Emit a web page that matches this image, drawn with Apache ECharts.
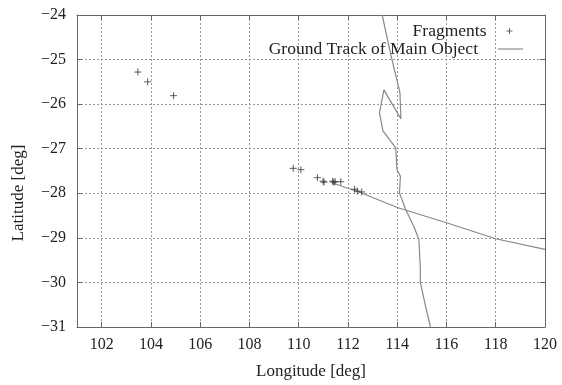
<!DOCTYPE html>
<html><head><meta charset="utf-8">
<script src="https://cdn.jsdelivr.net/npm/echarts@6/dist/echarts.min.js"></script>
<style>html,body{margin:0;padding:0;background:#fff}#c{width:562px;height:385px}</style>
</head><body><div id="c"></div>
<script>
// Fragment positions (longitude, latitude)
const fragLon = [103.47, 103.87, 104.92, 109.78, 110.09, 110.76, 110.99, 111.03, 111.38, 111.42, 111.48, 111.71, 112.27, 112.38, 112.56];
const fragLat = [-25.28, -25.50, -25.81, -27.44, -27.47, -27.65, -27.73, -27.75, -27.73, -27.75, -27.74, -27.74, -27.91, -27.95, -27.97];
// Ground track segment 1 (east-west pass)
const track1Lon = [111.37, 112.45, 114.00, 116.00, 118.00, 120.00];
const track1Lat = [-27.77, -27.97, -28.32, -28.66, -29.02, -29.26];
// Ground track segment 2 (north-south pass)
const track2Lon = [113.39, 113.74, 114.11, 114.15, 113.46, 113.28, 113.42, 113.94, 113.99, 114.13, 114.09, 114.34, 114.67, 114.88, 114.94, 114.94, 115.15, 115.35];
const track2Lat = [-24.00, -24.89, -25.74, -26.33, -25.68, -26.19, -26.60, -26.98, -27.47, -27.62, -27.99, -28.36, -28.74, -29.03, -29.70, -30.00, -30.53, -31.00];
// Tick values
const xTicks = [102, 104, 106, 108, 110, 112, 114, 116, 118, 120];
const yTicks = [-31, -30, -29, -28, -27, -26, -25, -24];

const zip = (a, b) => a.map((v, i) => [v, b[i]]);
const font = '"Liberation Serif", "Times New Roman", serif';
const txt = '#222';
const minus = v => String(v).replace('-', '\u2212');
const plusPath = 'path://M0,5L10,5M5,0L5,10';

const chart = echarts.init(document.getElementById('c'), null, {renderer: 'canvas'});
const xCommon = {
  type: 'value', min: 101, max: 120,
  axisLine: {show: true, onZero: false, lineStyle: {color: '#666', width: 1}},
};
const yCommon = {
  type: 'value', min: -31, max: -24, interval: 1,
  axisLine: {show: true, onZero: false, lineStyle: {color: '#666', width: 1}},
};
chart.setOption({
  animation: false,
  backgroundColor: '#fff',
  grid: {left: 77, right: 17, top: 15, bottom: 57, containLabel: false},
  xAxis: [
    Object.assign({}, xCommon, {
      position: 'bottom',
      name: 'Longitude [deg]', nameLocation: 'middle', nameGap: 36,
      nameTextStyle: {fontFamily: font, fontSize: 17, color: txt},
      axisTick: {show: true, inside: true, length: 5, customValues: xTicks, lineStyle: {color: '#666'}},
      axisLabel: {customValues: xTicks, margin: 10, fontFamily: font, fontSize: 16, color: txt, formatter: minus},
      splitLine: {show: true, lineStyle: {color: '#999', type: [2, 2], width: 1}}
    }),
    Object.assign({}, xCommon, {
      position: 'top',
      axisTick: {show: true, inside: true, length: 5, customValues: xTicks, lineStyle: {color: '#666'}},
      axisLabel: {show: false},
      splitLine: {show: false}
    })
  ],
  yAxis: [
    Object.assign({}, yCommon, {
      position: 'left',
      name: 'Latitude [deg]', nameLocation: 'middle', nameGap: 50, nameRotate: 90,
      nameTextStyle: {fontFamily: font, fontSize: 17, color: txt, padding: [0, 44, 0, 0]},
      axisTick: {show: true, inside: true, length: 5, lineStyle: {color: '#666'}},
      axisLabel: {margin: 11, fontFamily: font, fontSize: 16, color: txt, formatter: minus},
      splitLine: {show: true, lineStyle: {color: '#999', type: [2, 2], width: 1}}
    }),
    Object.assign({}, yCommon, {
      position: 'right',
      axisTick: {show: true, inside: true, length: 5, lineStyle: {color: '#666'}},
      axisLabel: {show: false},
      splitLine: {show: false}
    })
  ],
  legend: [
    {
      data: [{name: 'Fragments', icon: plusPath}],
      orient: 'vertical', align: 'right', right: 44, top: 17,
      itemWidth: 6, itemHeight: 6, symbolKeepAspect: true,
      itemStyle: {color: 'rgba(0,0,0,0)', borderColor: '#444', borderWidth: 1},
      textStyle: {fontFamily: font, fontSize: 17.5, color: txt, padding: [0, 15, 0, 0]},
      selectedMode: false
    },
    {
      data: [{name: 'Ground Track of Main Object', icon: 'rect'}],
      orient: 'vertical', align: 'right', right: 34, top: 35,
      itemWidth: 25, itemHeight: 1,
      itemStyle: {color: '#777', borderWidth: 0},
      lineStyle: {width: 0},
      textStyle: {fontFamily: font, fontSize: 17.5, color: txt, padding: [0, 15, 0, 0]},
      selectedMode: false
    }
  ],
  series: [
    {
      name: 'Ground Track of Main Object', type: 'line', data: zip(track1Lon, track1Lat),
      symbol: 'none', smooth: false, lineStyle: {color: '#888', width: 1.2}, itemStyle: {color: '#888'}
    },
    {
      name: 'Ground Track of Main Object', type: 'line', data: zip(track2Lon, track2Lat),
      symbol: 'none', smooth: false, lineStyle: {color: '#888', width: 1.2}, itemStyle: {color: '#888'}
    },
    {
      name: 'Fragments', type: 'scatter', data: zip(fragLon, fragLat),
      symbol: plusPath, symbolSize: 7, symbolKeepAspect: true,
      itemStyle: {color: 'rgba(0,0,0,0)', borderColor: '#333', borderWidth: 1}, z: 5
    }
  ]
});
</script>
</body></html>
